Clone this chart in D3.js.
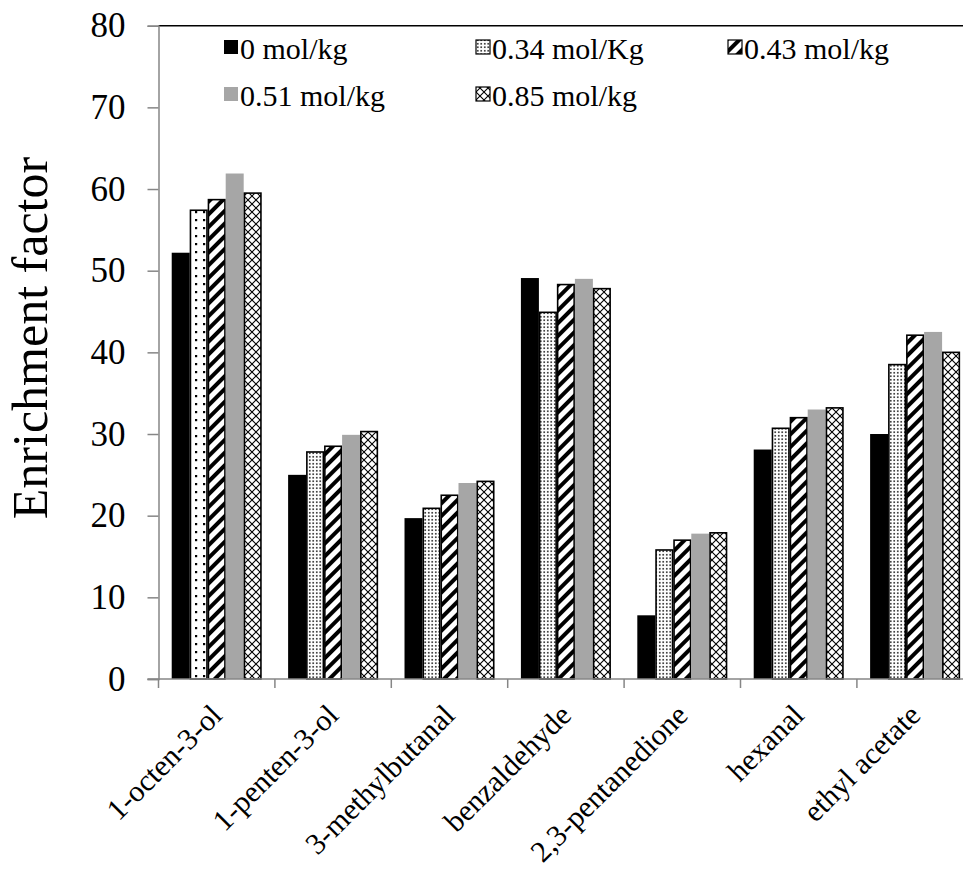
<!DOCTYPE html>
<html>
<head>
<meta charset="utf-8">
<script src="https://cdn.jsdelivr.net/npm/d3@7.9.0/dist/d3.min.js"></script>
<style>
  body { margin: 0; background: #fff; }
  text { font-family: "Liberation Serif", "Times New Roman", serif; fill: #000; }
</style>
</head>
<body>
<svg id="chart" width="963" height="877"></svg>
<script>
let categories = ['1-octen-3-ol', '1-penten-3-ol', '3-methylbutanal', 'benzaldehyde', '2,3-pentanedione', 'hexanal', 'ethyl acetate'];
let seriesNames = ['0 mol/kg', '0.34 mol/Kg', '0.43 mol/kg', '0.51 mol/kg', '0.85 mol/kg'];
let s0 = [52.2, 25.0, 19.7, 49.1, 7.8, 28.1, 30.0];
let s1 = [57.4, 27.8, 20.9, 44.9, 15.8, 30.7, 38.5];
let s2 = [58.7, 28.5, 22.5, 48.3, 17.0, 32.0, 42.1];
let s3 = [61.9, 29.9, 24.0, 49.0, 17.8, 33.0, 42.5];
let s4 = [59.5, 30.3, 24.2, 47.8, 17.9, 33.2, 40.0];
let yTicks = [0, 10, 20, 30, 40, 50, 60, 70, 80];

let series = [s0, s1, s2, s3, s4];
let serif = 'Liberation Serif';

let svg = d3.select('#chart');
let defs = svg.append('defs');

// fill patterns
let dots = defs.append('pattern').attr('id', 'dots').attr('patternUnits', 'userSpaceOnUse')
  .attr('width', 3.5).attr('height', 3.5);
dots.append('rect').attr('width', 3.5).attr('height', 3.5).attr('fill', '#fff');
dots.append('rect').attr('x', 1).attr('y', 1).attr('width', 1.5).attr('height', 1.5).attr('fill', '#000');

let dotsWide = defs.append('pattern').attr('id', 'dotsWide').attr('patternUnits', 'userSpaceOnUse')
  .attr('width', 8).attr('height', 8);
dotsWide.append('rect').attr('width', 8).attr('height', 8).attr('fill', '#fff');
dotsWide.append('rect').attr('x', 3).attr('y', 3).attr('width', 2.2).attr('height', 2.2).attr('fill', '#000');

let stripes = defs.append('pattern').attr('id', 'stripes').attr('patternUnits', 'userSpaceOnUse')
  .attr('width', 9).attr('height', 9).attr('patternTransform', 'rotate(45)');
stripes.append('rect').attr('width', 9).attr('height', 9).attr('fill', '#fff');
stripes.append('rect').attr('width', 4).attr('height', 9).attr('fill', '#000');

let cross = defs.append('pattern').attr('id', 'cross').attr('patternUnits', 'userSpaceOnUse')
  .attr('width', 8).attr('height', 8);
cross.append('rect').attr('width', 8).attr('height', 8).attr('fill', '#fff');
cross.append('path').attr('d', 'M0,0L8,8M8,0L0,8').attr('stroke', '#000').attr('stroke-width', 1.1);

let fills = ['#000', 'url(#dots)', 'url(#stripes)', '#a6a6a6', 'url(#cross)'];
let strokes = ['none', '#000', '#000', 'none', '#000'];

let plotLeft = 158.5, plotTop = 25.7, plotBottom = 679;
let step = 116.4;

let x0 = d3.scaleBand().domain(categories)
  .range([plotLeft, plotLeft + step * categories.length])
  .paddingInner(0.227).paddingOuter(0.1135);
let x1 = d3.scaleBand().domain(d3.range(series.length)).range([0, x0.bandwidth()]);
let y = d3.scaleLinear().domain([0, 80]).range([plotBottom, plotTop]);

// top border line
svg.append('line').attr('x1', plotLeft).attr('x2', 963).attr('y1', plotTop).attr('y2', plotTop)
  .attr('stroke', '#000').attr('stroke-width', 1.5);

// bars
series.forEach((vals, si) => {
  let edge = strokes[si] === 'none' ? 0 : 0.75;
  svg.append('g').selectAll('rect')
    .data(vals)
    .join('rect')
    .attr('x', (d, i) => x0(categories[i]) + x1(si) + edge)
    .attr('y', d => y(d))
    .attr('width', x1.bandwidth() - 2 * edge)
    .attr('height', d => y(0) - y(d))
    .attr('fill', (d, i) => (si === 1 && i === 0) ? 'url(#dotsWide)' : fills[si])
    .attr('stroke', strokes[si])
    .attr('stroke-width', 1.6);
});

// y axis
let yAxis = svg.append('g').attr('transform', `translate(${plotLeft},0)`)
  .call(d3.axisLeft(y).tickValues(yTicks).tickSize(11).tickPadding(22));
yAxis.select('.domain').attr('stroke', '#868686').attr('stroke-width', 1.5);
yAxis.selectAll('.tick line').attr('stroke', '#868686').attr('stroke-width', 1.5);
yAxis.selectAll('.tick text').attr('font-size', 35).attr('font-family', serif);

// x axis, ticks sit on category boundaries
let bounds = d3.range(categories.length + 1).map(i => plotLeft + i * step);
svg.append('line').attr('x1', plotLeft - 11).attr('x2', 963).attr('y1', plotBottom).attr('y2', plotBottom)
  .attr('stroke', '#868686').attr('stroke-width', 1.5);
svg.append('g').selectAll('line').data(bounds).join('line')
  .attr('x1', d => d).attr('x2', d => d).attr('y1', plotBottom).attr('y2', plotBottom + 9)
  .attr('stroke', '#868686').attr('stroke-width', 1.5);

svg.append('g').selectAll('text').data(categories).join('text')
  .attr('transform', d => `translate(${x0(d) + x0.bandwidth() / 2 + 7},717) rotate(-45)`)
  .attr('text-anchor', 'end')
  .attr('font-family', serif)
  .attr('font-size', 30)
  .text(d => d);

// y title
svg.append('text')
  .attr('transform', 'translate(47,338) rotate(-90)')
  .attr('text-anchor', 'middle')
  .attr('font-family', serif)
  .attr('font-size', 50)
  .text('Enrichment factor');

// legend
let legendPos = [[224, 59], [476, 59], [728, 59], [224, 106], [476, 106]];
let legend = svg.append('g');
seriesNames.forEach((name, i) => {
  let [lx, ly] = legendPos[i];
  legend.append('rect')
    .attr('x', lx).attr('y', ly - 19).attr('width', 14).attr('height', 14)
    .attr('fill', fills[i])
    .attr('stroke', strokes[i]).attr('stroke-width', 1.2);
  legend.append('text')
    .attr('x', lx + 16).attr('y', ly)
    .attr('font-family', serif)
    .attr('font-size', 30)
    .text(name);
});
</script>
</body>
</html>
